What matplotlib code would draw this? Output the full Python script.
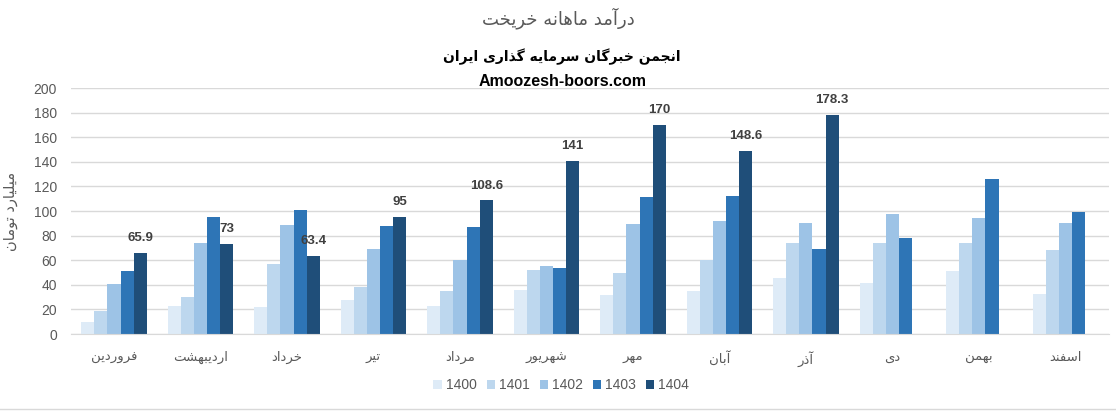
import matplotlib.pyplot as plt
import numpy as np
from matplotlib.lines import Line2D

# data (billion toman)
months = ['فروردین', 'اردیبهشت', 'خرداد', 'تیر', 'مرداد', 'شهریور',
          'مهر', 'آبان', 'آذر', 'دی', 'بهمن', 'اسفند']
years = ['1400', '1401', '1402', '1403', '1404']
v1400 = [10, 23, 22, 28, 23, 36, 32, 35, 45.6, 41.5, 51.3, 32.6]
v1401 = [19, 30, 57, 38, 35, 52, 50, 60, 74, 74, 74, 68.4]
v1402 = [40.7, 74, 88.7, 69, 60, 55.4, 89.6, 92, 90.4, 97.7, 94.4, 90.4]
v1403 = [51.3, 95, 101, 88, 87, 53.7, 111.5, 112.3, 69.2, 78.2, 126.2, 99.3]
v1404 = [65.9, 73, 63.4, 95, 108.6, 141, 170, 148.6, 178.3, np.nan, np.nan, np.nan]
labels1404 = ['65.9', '73', '63.4', '95', '108.6', '141', '170', '148.6', '178.3']

colors = ['#DEEBF7', '#BDD7EE', '#9DC3E6', '#2E75B6', '#1F4E79']
grey = '#595959'

# simple Persian shaping (matplotlib has no complex text layout)
FORMS = {
    'ا': (0xFE8D, 0xFE8E, None, None),
    'آ': (0xFE81, 0xFE82, None, None),
    'ب': (0xFE8F, 0xFE90, 0xFE91, 0xFE92),
    'ت': (0xFE95, 0xFE96, 0xFE97, 0xFE98),
    'ج': (0xFE9D, 0xFE9E, 0xFE9F, 0xFEA0),
    'خ': (0xFEA5, 0xFEA6, 0xFEA7, 0xFEA8),
    'د': (0xFEA9, 0xFEAA, None, None),
    'ذ': (0xFEAB, 0xFEAC, None, None),
    'ر': (0xFEAD, 0xFEAE, None, None),
    'ز': (0xFEAF, 0xFEB0, None, None),
    'س': (0xFEB1, 0xFEB2, 0xFEB3, 0xFEB4),
    'ش': (0xFEB5, 0xFEB6, 0xFEB7, 0xFEB8),
    'ف': (0xFED1, 0xFED2, 0xFED3, 0xFED4),
    'ل': (0xFEDD, 0xFEDE, 0xFEDF, 0xFEE0),
    'م': (0xFEE1, 0xFEE2, 0xFEE3, 0xFEE4),
    'ن': (0xFEE5, 0xFEE6, 0xFEE7, 0xFEE8),
    'ه': (0xFEE9, 0xFEEA, 0xFEEB, 0xFEEC),
    'و': (0xFEED, 0xFEEE, None, None),
    'ی': (0xFBFC, 0xFBFD, 0xFBFE, 0xFBFF),
    'گ': (0xFB92, 0xFB93, 0xFB94, 0xFB95),
}


def fa(text):
    out = []
    for i, c in enumerate(text):
        if c not in FORMS:
            out.append(c)
            continue
        iso, fin, ini, med = FORMS[c]
        prev = text[i - 1] if i > 0 else ''
        nxt = text[i + 1] if i + 1 < len(text) else ''
        jp = prev in FORMS and FORMS[prev][2] is not None
        jn = nxt in FORMS and ini is not None
        if jp and jn:
            f = med
        elif jp:
            f = fin
        elif jn:
            f = ini
        else:
            f = iso
        out.append(chr(f))
    return ''.join(reversed(out))


fig = plt.figure(figsize=(11.16, 4.11), dpi=100)
ax = fig.add_axes([0.0634, 0.1873, 0.930, 0.5985])

x = np.arange(len(months))
w = 0.152
series = [v1400, v1401, v1402, v1403, v1404]
for i, (yr, vals) in enumerate(zip(years, series)):
    ax.bar(x + (i - 2) * w, vals, width=w, color=colors[i], label=yr, zorder=2)

for i, lab in enumerate(labels1404):
    ax.annotate(lab, (x[i] + 2 * w, v1404[i]), xytext=(0, 8.5), textcoords='offset points',
                ha='center', va='baseline', fontsize=9.5, fontweight='bold',
                color='#404040', family='Liberation Sans')

ax.set_xlim(-0.5, len(months) - 0.5)
ax.set_ylim(0, 200)
ax.set_yticks(np.arange(0, 201, 20))
ax.yaxis.grid(True, color='#D9D9D9', linewidth=1, zorder=0)
ax.set_axisbelow(True)
for s in ['top', 'right', 'left']:
    ax.spines[s].set_visible(False)
ax.spines['bottom'].set_color('#D9D9D9')
ax.tick_params(axis='y', length=0, labelsize=10, colors=grey, pad=10)
ax.tick_params(axis='x', length=0, pad=12)
ax.set_xticks(x)
ax.set_xticklabels([fa(m) for m in months], fontsize=9.5, color=grey, family='DejaVu Sans')
for t in ax.get_yticklabels():
    t.set_family('Liberation Sans')

ax.set_ylabel(fa('میلیارد تومان'), fontsize=10.5, color=grey, labelpad=11)

fig.text(0.5, 1 - 18 / 411, fa('درآمد ماهانه خریخت'), ha='center', va='center',
         fontsize=13, color=grey)
fig.text(0.503, 1 - 57 / 411, fa('انجمن خبرگان سرمایه گذاری ایران'), ha='center', va='center',
         fontsize=10, fontweight='bold', color='black')
fig.text(0.504, 1 - 82 / 411, 'Amoozesh-boors.com', ha='center', va='center',
         fontsize=11.5, fontweight='bold', color='black', family='Liberation Sans')

fig.legend(loc='center', bbox_to_anchor=(0.503, 1 - 385 / 411), ncol=5, frameon=False,
           handlelength=0.6, handleheight=0.6, handletextpad=0.3, columnspacing=0.7,
           prop={'family': 'Liberation Sans', 'size': 10}, labelcolor=grey)

fig.add_artist(Line2D([0, 1], [1 - 409 / 411] * 2, color='#D9D9D9', linewidth=1))

fig.savefig('out.png', dpi=100)
